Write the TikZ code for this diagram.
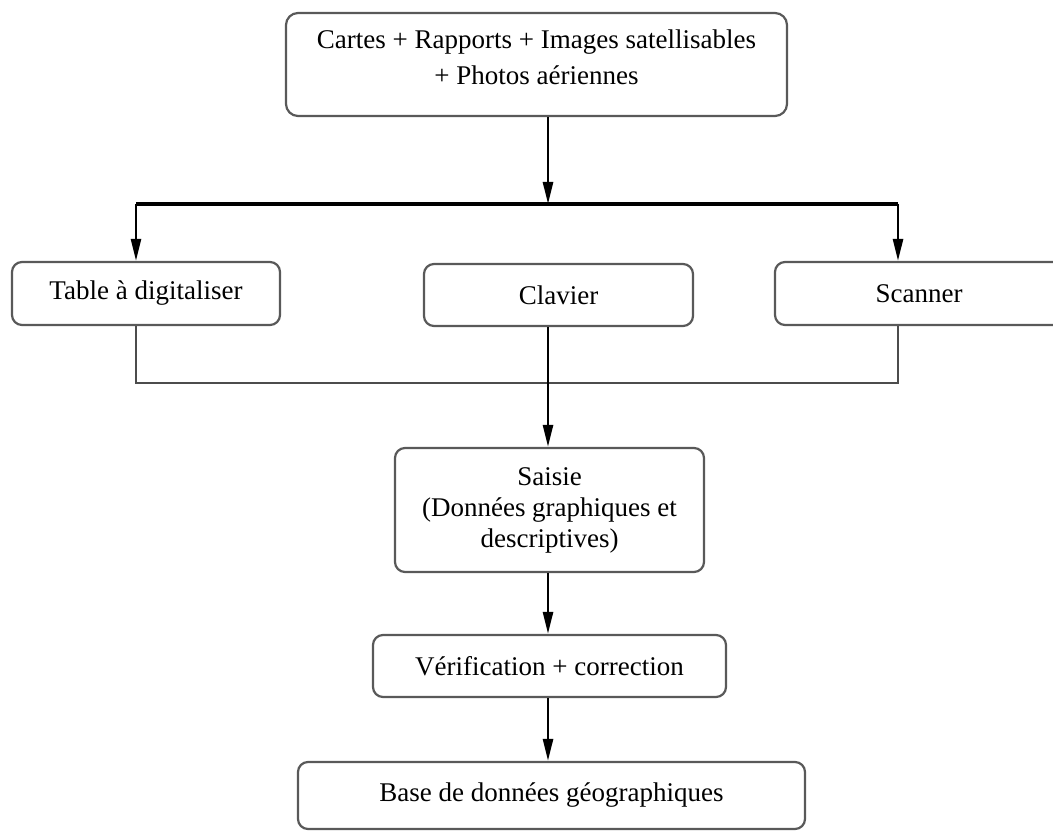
\documentclass[tikz,border=0pt]{standalone}
\usepackage{fontspec}
\setmainfont{Liberation Serif}
\usetikzlibrary{arrows.meta,positioning}

\begin{document}
\begin{tikzpicture}[
        x=0.5pt, y=-0.5pt,
        every node/.style={font=\fontsize{13.5pt}{15.5pt}\selectfont},
        box/.style={
                draw=black!65,
                line width=1.1pt,
                rounded corners=5pt,
                align=center,
                inner sep=3pt
        },
        arrow/.style={-{Triangle[length=11pt,width=5pt]}, line width=1.3pt},
        link/.style={draw=black!70, line width=1.1pt},
        bus/.style={line width=2.3pt}
]

\useasboundingbox (0,0) rectangle (1053,833);

% Sources
\node[box, rounded corners=6pt, minimum width=250.5pt, minimum height=51.5pt, text depth=7pt] (src) at (536.5,64.5)
        {Cartes + Rapports + Images satellisables\\[2.5pt] + Photos aériennes};

% Input devices
\node[box, minimum width=134pt, minimum height=31.5pt] (table) at (146,293.5) {Table à digitaliser};
\node[box, minimum width=134.5pt, minimum height=31pt] (clavier) at (558.5,295) {Clavier};
\node[box, minimum width=144pt, minimum height=31.5pt] (scanner) at (919,293.5) {Scanner};

% Processing chain
\node[box, minimum width=154.5pt, minimum height=62pt] (saisie) at (549.5,510)
        {Saisie\\(Données graphiques et\\descriptives)};
\node[box, minimum width=176.5pt, minimum height=31pt] (verif) at (549.5,666) {Vérification + correction};
\node[box, minimum width=253.5pt, minimum height=33.5pt] (base) at (551.5,795.5) {Base de données géographiques};

% Fork and join points
\coordinate (fork) at (548,204);
\coordinate (forkL) at (136,204);
\coordinate (forkR) at (898,204);
\coordinate (joinL) at (136,383);
\coordinate (joinR) at (898,383);

% Sources split to the devices
\draw[arrow] (src.south -| fork) -- (fork);
\draw[bus] (forkL) -- (forkR);
\draw[arrow] (forkL) -- (table.north -| forkL);
\draw[arrow] (forkR) -- (scanner.north -| forkR);

% Devices gathered into the input step
\draw[link] (table.south -| joinL) -- (joinL) -- (joinR) -- (scanner.south -| joinR);
\draw[arrow] (clavier.south -| fork) -- (saisie.north -| fork);

% Main chain
\draw[arrow] (saisie.south -| fork) -- (verif.north -| fork);
\draw[arrow] (verif.south -| fork) -- (base.north -| fork);

\end{tikzpicture}
\end{document}
